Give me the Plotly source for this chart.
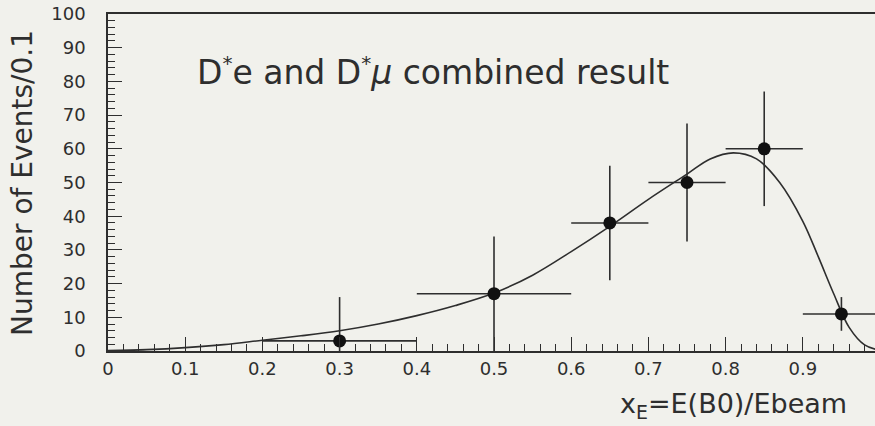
import plotly.graph_objects as go

# data points
x_pts = [0.3, 0.5, 0.65, 0.75, 0.85, 0.95]
y_pts = [3, 17, 38, 50, 60, 11]
y_err = [13, 17, 17, 17.5, 17, 5]
x_halfwidth = [0.1, 0.1, 0.05, 0.05, 0.05, 0.05]

# fitted curve
curve_x = [0, 0.05, 0.1, 0.15, 0.2, 0.25, 0.3, 0.35, 0.4, 0.45, 0.5, 0.55, 0.6,
           0.65, 0.7, 0.75, 0.78, 0.81, 0.84, 0.87, 0.9, 0.92, 0.94, 0.96,
           0.98, 1.0]
curve_y = [0.1, 0.4, 1.0, 1.9, 3.2, 4.5, 6.0, 8.0, 10.5, 13.5, 17.2, 22.5, 29.5,
           37, 45, 52.5, 57, 58.8, 57, 50, 38.5, 28, 17, 7, 1.8, 0.2]

x_ticks = [0, 0.1, 0.2, 0.3, 0.4, 0.5, 0.6, 0.7, 0.8, 0.9]
x_ticklabels = ["0", "0.1", "0.2", "0.3", "0.4", "0.5", "0.6", "0.7", "0.8", "0.9"]
y_ticks = [0, 10, 20, 30, 40, 50, 60, 70, 80, 90, 100]

INK = "#2e2e2e"
BG = "#f1f1ec"
FONT = "DejaVu Sans"

fig = go.Figure()
fig.add_trace(go.Scatter(
    x=curve_x, y=curve_y, mode="lines",
    line=dict(color=INK, width=1.6, shape="spline", smoothing=1.0),
    hoverinfo="skip", showlegend=False))
fig.add_trace(go.Scatter(
    x=x_pts, y=y_pts, mode="markers",
    marker=dict(color="#111111", size=13),
    error_y=dict(type="data", array=y_err, color=INK, thickness=1.6, width=0),
    error_x=dict(type="data", array=x_halfwidth, color=INK, thickness=1.6, width=0),
    showlegend=False))

fig.update_layout(
    width=875, height=426,
    margin=dict(l=108, r=0, t=14, b=75),
    paper_bgcolor=BG, plot_bgcolor=BG,
    font=dict(family=FONT, color=INK),
    xaxis=dict(
        range=[0, 0.9935], showgrid=False, zeroline=False,
        showline=True, linecolor=INK, linewidth=1.6, mirror=True,
        ticks="inside", ticklen=14, tickwidth=1.4, tickcolor=INK,
        tickvals=x_ticks, ticktext=x_ticklabels,
        tickfont=dict(size=18, family=FONT, color=INK),
        ticklabelstandoff=1,
        minor=dict(ticks="inside", ticklen=7, tickwidth=1.2, tickcolor=INK, dtick=0.02, tick0=0),
    ),
    yaxis=dict(
        range=[0, 100], showgrid=False, zeroline=False,
        showline=True, linecolor=INK, linewidth=1.6, mirror=False,
        ticks="inside", ticklen=14, tickwidth=1.4, tickcolor=INK,
        tickvals=y_ticks,
        tickfont=dict(size=18, family=FONT, color=INK),
        ticklabelstandoff=17,
        minor=dict(ticks="inside", ticklen=7, tickwidth=1.2, tickcolor=INK, dtick=2, tick0=0),
    ),
)

fig.add_annotation(
    text="Number of Events/0.1", textangle=-90,
    xref="paper", yref="paper", x=(22 - 108) / 767, y=(351 - 183) / 337,
    showarrow=False, xanchor="center", yanchor="middle",
    font=dict(size=28, family=FONT, color=INK))

fig.add_annotation(
    text="D<sup><span style='font-size:20px'>*</span></sup>e and D<sup><span style='font-size:20px'>*</span></sup><i>μ</i> combined result",
    xref="paper", yref="paper", x=(433 - 108) / 767, y=(351 - 72) / 337,
    showarrow=False, xanchor="center", yanchor="middle",
    font=dict(size=33, family=FONT, color=INK))

fig.add_annotation(
    text="x<sub>E</sub>=E(B0)/Ebeam",
    xref="paper", yref="paper", x=(733 - 108) / 767, y=(351 - 405) / 337,
    showarrow=False, xanchor="center", yanchor="middle",
    font=dict(size=27, family=FONT, color=INK))

fig.write_html("out.html")
